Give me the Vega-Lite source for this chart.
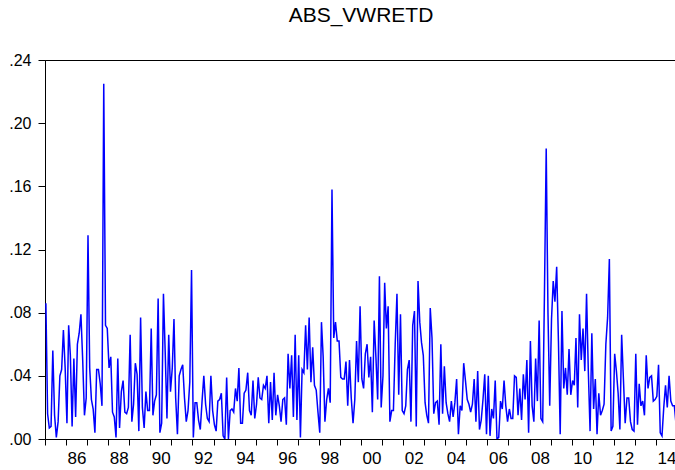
{
  "$schema": "https://vega.github.io/schema/vega-lite/v6.json",
  "width": 632,
  "height": 379,
  "autosize": {"type": "none"},
  "padding": {"left": 45, "top": 60, "right": -2, "bottom": 31},
  "background": "white",
  "title": {"text": "ABS_VWRETD", "fontSize": 21, "font": "Liberation Sans", "fontWeight": "normal", "color": "black", "anchor": "middle", "frame": "group", "baseline": "alphabetic", "offset": 9},
  "config": {"view": {"stroke": "black", "strokeWidth": 1}},
  "data": {"values": [
{"month":"1985-01","value":0.086},{"month":"1985-02","value":0.016},{"month":"1985-03","value":0.007},{"month":"1985-04","value":0.008},{"month":"1985-05","value":0.056},{"month":"1985-06","value":0.015},{"month":"1985-07","value":0.001},{"month":"1985-08","value":0.011},{"month":"1985-09","value":0.040},{"month":"1985-10","value":0.044},{"month":"1985-11","value":0.069},{"month":"1985-12","value":0.045},
{"month":"1986-01","value":0.010},{"month":"1986-02","value":0.072},{"month":"1986-03","value":0.053},{"month":"1986-04","value":0.008},{"month":"1986-05","value":0.051},{"month":"1986-06","value":0.014},{"month":"1986-07","value":0.060},{"month":"1986-08","value":0.067},{"month":"1986-09","value":0.079},{"month":"1986-10","value":0.050},{"month":"1986-11","value":0.015},{"month":"1986-12","value":0.026},
{"month":"1987-01","value":0.129},{"month":"1987-02","value":0.045},{"month":"1987-03","value":0.025},{"month":"1987-04","value":0.019},{"month":"1987-05","value":0.004},{"month":"1987-06","value":0.044},{"month":"1987-07","value":0.044},{"month":"1987-08","value":0.035},{"month":"1987-09","value":0.021},{"month":"1987-10","value":0.225},{"month":"1987-11","value":0.072},{"month":"1987-12","value":0.070},
{"month":"1988-01","value":0.045},{"month":"1988-02","value":0.052},{"month":"1988-03","value":0.017},{"month":"1988-04","value":0.014},{"month":"1988-05","value":0.001},{"month":"1988-06","value":0.051},{"month":"1988-07","value":0.007},{"month":"1988-08","value":0.030},{"month":"1988-09","value":0.037},{"month":"1988-10","value":0.017},{"month":"1988-11","value":0.016},{"month":"1988-12","value":0.020},
{"month":"1989-01","value":0.066},{"month":"1989-02","value":0.011},{"month":"1989-03","value":0.022},{"month":"1989-04","value":0.048},{"month":"1989-05","value":0.041},{"month":"1989-06","value":0.005},{"month":"1989-07","value":0.077},{"month":"1989-08","value":0.020},{"month":"1989-09","value":0.007},{"month":"1989-10","value":0.030},{"month":"1989-11","value":0.018},{"month":"1989-12","value":0.018},
{"month":"1990-01","value":0.070},{"month":"1990-02","value":0.015},{"month":"1990-03","value":0.024},{"month":"1990-04","value":0.028},{"month":"1990-05","value":0.089},{"month":"1990-06","value":0.004},{"month":"1990-07","value":0.010},{"month":"1990-08","value":0.092},{"month":"1990-09","value":0.055},{"month":"1990-10","value":0.013},{"month":"1990-11","value":0.066},{"month":"1990-12","value":0.030},
{"month":"1991-01","value":0.045},{"month":"1991-02","value":0.076},{"month":"1991-03","value":0.026},{"month":"1991-04","value":0.003},{"month":"1991-05","value":0.040},{"month":"1991-06","value":0.044},{"month":"1991-07","value":0.047},{"month":"1991-08","value":0.026},{"month":"1991-09","value":0.011},{"month":"1991-10","value":0.018},{"month":"1991-11","value":0.036},{"month":"1991-12","value":0.107},
{"month":"1992-01","value":0.001},{"month":"1992-02","value":0.023},{"month":"1992-03","value":0.023},{"month":"1992-04","value":0.012},{"month":"1992-05","value":0.006},{"month":"1992-06","value":0.024},{"month":"1992-07","value":0.040},{"month":"1992-08","value":0.022},{"month":"1992-09","value":0.013},{"month":"1992-10","value":0.011},{"month":"1992-11","value":0.040},{"month":"1992-12","value":0.018},
{"month":"1993-01","value":0.009},{"month":"1993-02","value":0.005},{"month":"1993-03","value":0.024},{"month":"1993-04","value":0.025},{"month":"1993-05","value":0.029},{"month":"1993-06","value":0.002},{"month":"1993-07","value":0.000},{"month":"1993-08","value":0.039},{"month":"1993-09","value":0.000},{"month":"1993-10","value":0.018},{"month":"1993-11","value":0.019},{"month":"1993-12","value":0.017},
{"month":"1994-01","value":0.032},{"month":"1994-02","value":0.024},{"month":"1994-03","value":0.045},{"month":"1994-04","value":0.010},{"month":"1994-05","value":0.010},{"month":"1994-06","value":0.029},{"month":"1994-07","value":0.031},{"month":"1994-08","value":0.042},{"month":"1994-09","value":0.018},{"month":"1994-10","value":0.015},{"month":"1994-11","value":0.037},{"month":"1994-12","value":0.013},
{"month":"1995-01","value":0.022},{"month":"1995-02","value":0.039},{"month":"1995-03","value":0.026},{"month":"1995-04","value":0.025},{"month":"1995-05","value":0.034},{"month":"1995-06","value":0.032},{"month":"1995-07","value":0.040},{"month":"1995-08","value":0.010},{"month":"1995-09","value":0.036},{"month":"1995-10","value":0.012},{"month":"1995-11","value":0.042},{"month":"1995-12","value":0.015},
{"month":"1996-01","value":0.028},{"month":"1996-02","value":0.021},{"month":"1996-03","value":0.011},{"month":"1996-04","value":0.025},{"month":"1996-05","value":0.026},{"month":"1996-06","value":0.009},{"month":"1996-07","value":0.054},{"month":"1996-08","value":0.032},{"month":"1996-09","value":0.053},{"month":"1996-10","value":0.014},{"month":"1996-11","value":0.066},{"month":"1996-12","value":0.012},
{"month":"1997-01","value":0.053},{"month":"1997-02","value":0.001},{"month":"1997-03","value":0.044},{"month":"1997-04","value":0.042},{"month":"1997-05","value":0.072},{"month":"1997-06","value":0.044},{"month":"1997-07","value":0.077},{"month":"1997-08","value":0.036},{"month":"1997-09","value":0.058},{"month":"1997-10","value":0.034},{"month":"1997-11","value":0.031},{"month":"1997-12","value":0.017},
{"month":"1998-01","value":0.004},{"month":"1998-02","value":0.074},{"month":"1998-03","value":0.052},{"month":"1998-04","value":0.011},{"month":"1998-05","value":0.025},{"month":"1998-06","value":0.032},{"month":"1998-07","value":0.023},{"month":"1998-08","value":0.158},{"month":"1998-09","value":0.064},{"month":"1998-10","value":0.074},{"month":"1998-11","value":0.062},{"month":"1998-12","value":0.062},
{"month":"1999-01","value":0.039},{"month":"1999-02","value":0.038},{"month":"1999-03","value":0.038},{"month":"1999-04","value":0.049},{"month":"1999-05","value":0.021},{"month":"1999-06","value":0.050},{"month":"1999-07","value":0.026},{"month":"1999-08","value":0.010},{"month":"1999-09","value":0.025},{"month":"1999-10","value":0.062},{"month":"1999-11","value":0.036},{"month":"1999-12","value":0.084},
{"month":"2000-01","value":0.038},{"month":"2000-02","value":0.032},{"month":"2000-03","value":0.054},{"month":"2000-04","value":0.060},{"month":"2000-05","value":0.039},{"month":"2000-06","value":0.052},{"month":"2000-07","value":0.017},{"month":"2000-08","value":0.075},{"month":"2000-09","value":0.052},{"month":"2000-10","value":0.025},{"month":"2000-11","value":0.103},{"month":"2000-12","value":0.020},
{"month":"2001-01","value":0.040},{"month":"2001-02","value":0.099},{"month":"2001-03","value":0.070},{"month":"2001-04","value":0.084},{"month":"2001-05","value":0.011},{"month":"2001-06","value":0.018},{"month":"2001-07","value":0.018},{"month":"2001-08","value":0.060},{"month":"2001-09","value":0.092},{"month":"2001-10","value":0.028},{"month":"2001-11","value":0.079},{"month":"2001-12","value":0.018},
{"month":"2002-01","value":0.016},{"month":"2002-02","value":0.021},{"month":"2002-03","value":0.044},{"month":"2002-04","value":0.050},{"month":"2002-05","value":0.011},{"month":"2002-06","value":0.072},{"month":"2002-07","value":0.081},{"month":"2002-08","value":0.008},{"month":"2002-09","value":0.100},{"month":"2002-10","value":0.074},{"month":"2002-11","value":0.061},{"month":"2002-12","value":0.053},
{"month":"2003-01","value":0.023},{"month":"2003-02","value":0.015},{"month":"2003-03","value":0.010},{"month":"2003-04","value":0.083},{"month":"2003-05","value":0.064},{"month":"2003-06","value":0.016},{"month":"2003-07","value":0.023},{"month":"2003-08","value":0.024},{"month":"2003-09","value":0.009},{"month":"2003-10","value":0.060},{"month":"2003-11","value":0.016},{"month":"2003-12","value":0.046},
{"month":"2004-01","value":0.023},{"month":"2004-02","value":0.016},{"month":"2004-03","value":0.011},{"month":"2004-04","value":0.024},{"month":"2004-05","value":0.014},{"month":"2004-06","value":0.023},{"month":"2004-07","value":0.038},{"month":"2004-08","value":0.003},{"month":"2004-09","value":0.021},{"month":"2004-10","value":0.018},{"month":"2004-11","value":0.048},{"month":"2004-12","value":0.037},
{"month":"2005-01","value":0.025},{"month":"2005-02","value":0.022},{"month":"2005-03","value":0.017},{"month":"2005-04","value":0.022},{"month":"2005-05","value":0.038},{"month":"2005-06","value":0.011},{"month":"2005-07","value":0.043},{"month":"2005-08","value":0.006},{"month":"2005-09","value":0.012},{"month":"2005-10","value":0.025},{"month":"2005-11","value":0.041},{"month":"2005-12","value":0.003},
{"month":"2006-01","value":0.040},{"month":"2006-02","value":0.002},{"month":"2006-03","value":0.019},{"month":"2006-04","value":0.013},{"month":"2006-05","value":0.037},{"month":"2006-06","value":0.000},{"month":"2006-07","value":0.001},{"month":"2006-08","value":0.024},{"month":"2006-09","value":0.019},{"month":"2006-10","value":0.037},{"month":"2006-11","value":0.021},{"month":"2006-12","value":0.011},
{"month":"2007-01","value":0.019},{"month":"2007-02","value":0.013},{"month":"2007-03","value":0.013},{"month":"2007-04","value":0.040},{"month":"2007-05","value":0.039},{"month":"2007-06","value":0.015},{"month":"2007-07","value":0.032},{"month":"2007-08","value":0.012},{"month":"2007-09","value":0.041},{"month":"2007-10","value":0.025},{"month":"2007-11","value":0.050},{"month":"2007-12","value":0.004},
{"month":"2008-01","value":0.062},{"month":"2008-02","value":0.021},{"month":"2008-03","value":0.011},{"month":"2008-04","value":0.051},{"month":"2008-05","value":0.024},{"month":"2008-06","value":0.075},{"month":"2008-07","value":0.013},{"month":"2008-08","value":0.011},{"month":"2008-09","value":0.092},{"month":"2008-10","value":0.184},{"month":"2008-11","value":0.080},{"month":"2008-12","value":0.021},
{"month":"2009-01","value":0.076},{"month":"2009-02","value":0.100},{"month":"2009-03","value":0.087},{"month":"2009-04","value":0.109},{"month":"2009-05","value":0.062},{"month":"2009-06","value":0.003},{"month":"2009-07","value":0.081},{"month":"2009-08","value":0.032},{"month":"2009-09","value":0.045},{"month":"2009-10","value":0.028},{"month":"2009-11","value":0.057},{"month":"2009-12","value":0.028},
{"month":"2010-01","value":0.037},{"month":"2010-02","value":0.034},{"month":"2010-03","value":0.064},{"month":"2010-04","value":0.020},{"month":"2010-05","value":0.079},{"month":"2010-06","value":0.050},{"month":"2010-07","value":0.070},{"month":"2010-08","value":0.043},{"month":"2010-09","value":0.092},{"month":"2010-10","value":0.043},{"month":"2010-11","value":0.005},{"month":"2010-12","value":0.067},
{"month":"2011-01","value":0.019},{"month":"2011-02","value":0.038},{"month":"2011-03","value":0.003},{"month":"2011-04","value":0.029},{"month":"2011-05","value":0.015},{"month":"2011-06","value":0.018},{"month":"2011-07","value":0.022},{"month":"2011-08","value":0.060},{"month":"2011-09","value":0.077},{"month":"2011-10","value":0.114},{"month":"2011-11","value":0.005},{"month":"2011-12","value":0.008},
{"month":"2012-01","value":0.054},{"month":"2012-02","value":0.043},{"month":"2012-03","value":0.029},{"month":"2012-04","value":0.006},{"month":"2012-05","value":0.066},{"month":"2012-06","value":0.038},{"month":"2012-07","value":0.010},{"month":"2012-08","value":0.026},{"month":"2012-09","value":0.026},{"month":"2012-10","value":0.011},{"month":"2012-11","value":0.006},{"month":"2012-12","value":0.005},
{"month":"2013-01","value":0.054},{"month":"2013-02","value":0.009},{"month":"2013-03","value":0.035},{"month":"2013-04","value":0.021},{"month":"2013-05","value":0.024},{"month":"2013-06","value":0.015},{"month":"2013-07","value":0.053},{"month":"2013-08","value":0.032},{"month":"2013-09","value":0.039},{"month":"2013-10","value":0.040},{"month":"2013-11","value":0.024},{"month":"2013-12","value":0.025},
{"month":"2014-01","value":0.027},{"month":"2014-02","value":0.047},{"month":"2014-03","value":0.004},{"month":"2014-04","value":0.002},{"month":"2014-05","value":0.020},{"month":"2014-06","value":0.034},{"month":"2014-07","value":0.020},{"month":"2014-08","value":0.040},{"month":"2014-09","value":0.024},{"month":"2014-10","value":0.021},{"month":"2014-11","value":0.021},{"month":"2014-12","value":0.009}
  ]},
  "mark": {"type": "line", "color": "#0000FF", "strokeWidth": 1.5, "clip": true},
  "encoding": {
    "x": {
      "field": "month", "type": "temporal", "timeUnit": "utcyearmonth", "bandPosition": 0.5,
      "scale": {"type": "utc", "domain": [{"year": 1985, "month": 1, "date": 1, "utc": true}, {"year": 2015, "month": 1, "date": 1, "utc": true}]},
      "axis": {
        "title": null, "grid": false,
        "values": [{"year":1985,"utc":true},{"year":1986,"utc":true},{"year":1987,"utc":true},{"year":1988,"utc":true},{"year":1989,"utc":true},{"year":1990,"utc":true},{"year":1991,"utc":true},{"year":1992,"utc":true},{"year":1993,"utc":true},{"year":1994,"utc":true},{"year":1995,"utc":true},{"year":1996,"utc":true},{"year":1997,"utc":true},{"year":1998,"utc":true},{"year":1999,"utc":true},{"year":2000,"utc":true},{"year":2001,"utc":true},{"year":2002,"utc":true},{"year":2003,"utc":true},{"year":2004,"utc":true},{"year":2005,"utc":true},{"year":2006,"utc":true},{"year":2007,"utc":true},{"year":2008,"utc":true},{"year":2009,"utc":true},{"year":2010,"utc":true},{"year":2011,"utc":true},{"year":2012,"utc":true},{"year":2013,"utc":true},{"year":2014,"utc":true}],
        "labelExpr": "utcyear(datum.value) % 2 == 0 ? utcFormat(datum.value, '%y') : ''",
        "labelOffset": 10.5, "labelOverlap": false, "labelBound": false, "labelFlush": false,
        "labelFont": "Liberation Sans", "labelFontSize": 17, "labelColor": "black", "labelPadding": 5,
        "tickSize": 6, "tickColor": "black", "domainColor": "black"
      }
    },
    "y": {
      "field": "value", "type": "quantitative",
      "scale": {"domain": [0, 0.24], "nice": false, "zero": true},
      "axis": {
        "title": null, "grid": false,
        "values": [0, 0.04, 0.08, 0.12, 0.16, 0.2, 0.24],
        "labelExpr": "slice(format(datum.value, '.2f'), 1)",
        "labelFont": "Liberation Sans", "labelFontSize": 16, "labelColor": "black", "labelPadding": 7,
        "labelOverlap": false, "labelBound": false, "labelFlush": false,
        "tickSize": 7, "tickColor": "black", "domainColor": "black"
      }
    }
  }
}
